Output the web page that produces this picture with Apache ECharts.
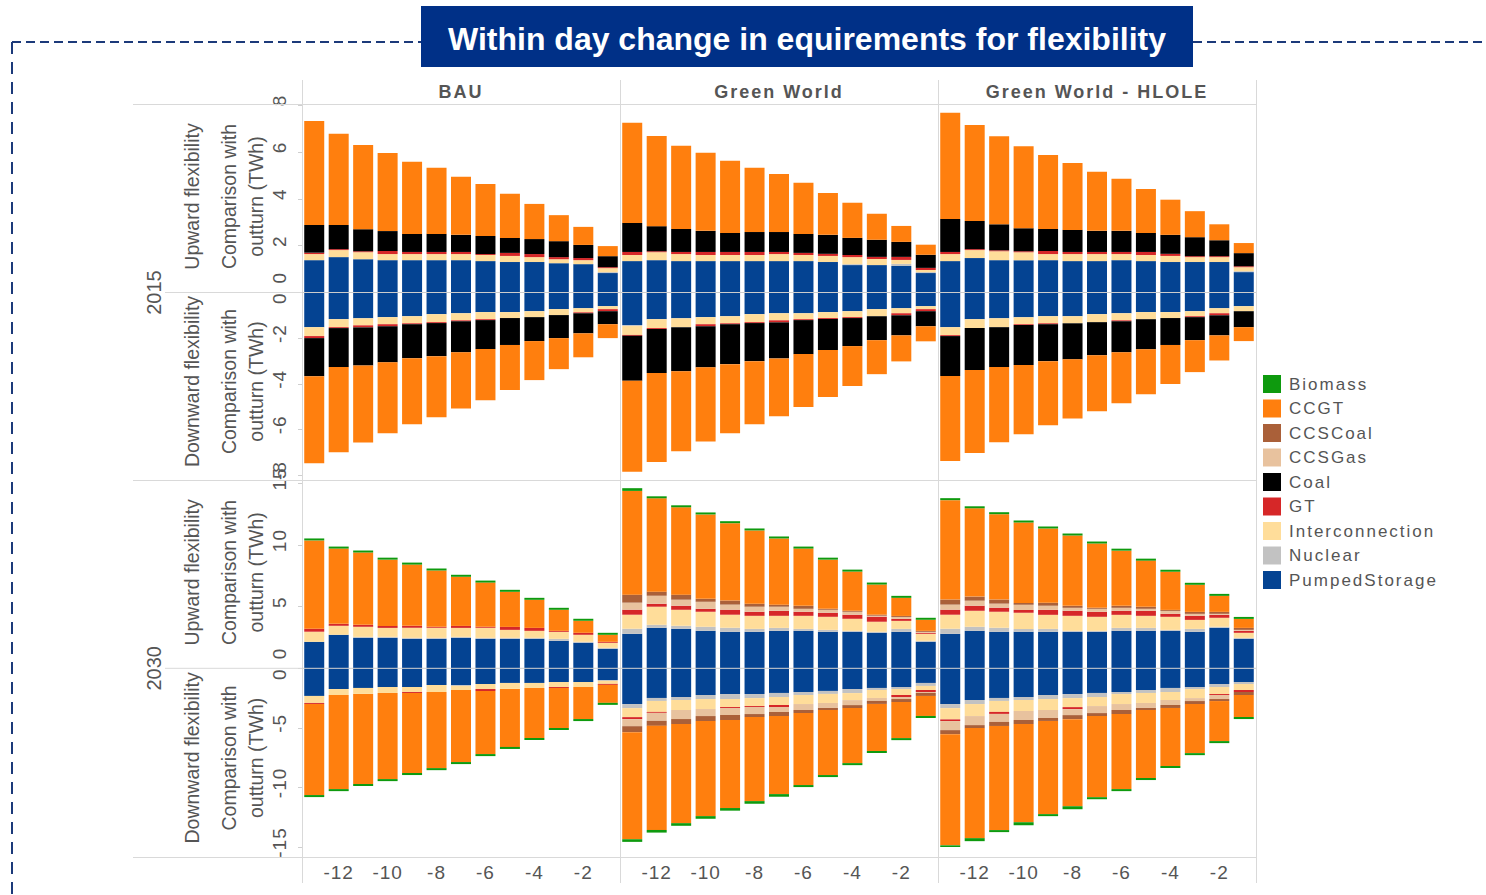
<!DOCTYPE html>
<html>
<head>
<meta charset="utf-8">
<title>Within day change in equirements for flexibility</title>
<script src="https://cdn.jsdelivr.net/npm/echarts@6/dist/echarts.min.js"></script>
<style>
  html, body { margin: 0; padding: 0; background: #fff; }
  #chart { width: 1486px; height: 895px; }
  /* Tableau-like wide text: svg renderer lets css space the letters */
  #chart text { letter-spacing: 2px; }
  #chart text[style*="19px"] { letter-spacing: 1px; }
  #chart text[style*="19.5px"], #chart text[style*="20px"], #chart text[style*="32px"] { letter-spacing: 0; }
</style>
</head>
<body>
<div id="chart"></div>
<script>
const hours = ['-13', '-12', '-11', '-10', '-9', '-8', '-7', '-6', '-5', '-4', '-3', '-2', '-1'];
const scenarios = ['BAU', 'Green World', 'Green World - HLOLE'];
const years = ['2015', '2030'];
const yMax = { '2015': 8, '2030': 15 };
const yStep = { '2015': 2, '2030': 5 };

// stacking order, from the zero line outwards
const stackOrder = ['PumpedStorage', 'Nuclear', 'Interconnection', 'GT', 'Coal', 'CCSGas', 'CCSCoal', 'CCGT', 'Biomass'];
const legendOrder = ['Biomass', 'CCGT', 'CCSCoal', 'CCSGas', 'Coal', 'GT', 'Interconnection', 'Nuclear', 'PumpedStorage'];
const colors = {
  Biomass: '#0e9a0e',
  CCGT: '#ff7f0e',
  CCSCoal: '#aa6039',
  CCSGas: '#e8c29e',
  Coal: '#000000',
  GT: '#d62728',
  Interconnection: '#ffdd9a',
  Nuclear: '#c2c2c2',
  PumpedStorage: '#044392'
};

// TWh, upward values and downward magnitudes (drawn below zero)
const bau2015Up = {
  PumpedStorage: [1.38, 1.51, 1.42, 1.38, 1.38, 1.38, 1.38, 1.34, 1.30, 1.30, 1.25, 1.21, 0.83],
  Nuclear: [0, 0, 0, 0, 0, 0, 0, 0, 0, 0, 0, 0, 0.04],
  Interconnection: [0.26, 0.30, 0.30, 0.26, 0.26, 0.26, 0.26, 0.26, 0.26, 0.21, 0.17, 0.17, 0.17],
  GT: [0.06, 0.04, 0.04, 0.13, 0.09, 0.09, 0.09, 0.04, 0.13, 0.13, 0.09, 0.09, 0.04],
  Coal: [1.18, 1.03, 0.94, 0.85, 0.77, 0.77, 0.73, 0.77, 0.64, 0.64, 0.68, 0.56, 0.47],
  CCGT: [4.44, 3.89, 3.59, 3.33, 3.08, 2.82, 2.48, 2.22, 1.88, 1.50, 1.11, 0.77, 0.43]
};
const bau2015Down = {
  PumpedStorage: [1.52, 1.17, 1.13, 1.08, 1.04, 0.95, 0.91, 0.86, 0.86, 0.82, 0.73, 0.69, 0.60],
  Interconnection: [0.39, 0.35, 0.31, 0.31, 0.31, 0.35, 0.31, 0.31, 0.26, 0.26, 0.26, 0.18, 0.13],
  GT: [0.09, 0.04, 0.09, 0.09, 0.04, 0.04, 0.04, 0.04, 0, 0, 0, 0.04, 0.09],
  Coal: [1.67, 1.71, 1.67, 1.58, 1.49, 1.45, 1.36, 1.27, 1.18, 1.05, 1.01, 0.88, 0.57],
  CCGT: [3.82, 3.73, 3.38, 3.11, 2.89, 2.68, 2.46, 2.24, 1.97, 1.71, 1.36, 1.05, 0.61]
};
const gw2015Up = {
  PumpedStorage: [1.34, 1.38, 1.34, 1.34, 1.34, 1.34, 1.34, 1.34, 1.30, 1.17, 1.17, 1.13, 0.83],
  Nuclear: [0, 0, 0, 0, 0, 0, 0, 0, 0, 0.04, 0, 0.09, 0.04],
  Interconnection: [0.26, 0.34, 0.30, 0.26, 0.26, 0.26, 0.30, 0.26, 0.26, 0.30, 0.26, 0.17, 0.09],
  GT: [0.13, 0.04, 0.09, 0.13, 0.13, 0.13, 0.09, 0.09, 0.09, 0.09, 0.09, 0.13, 0.09],
  Coal: [1.24, 1.07, 0.98, 0.90, 0.81, 0.85, 0.85, 0.81, 0.81, 0.73, 0.73, 0.64, 0.56],
  CCGT: [4.27, 3.85, 3.55, 3.33, 3.08, 2.74, 2.48, 2.18, 1.79, 1.50, 1.11, 0.68, 0.43]
};
const gw2015Down = {
  PumpedStorage: [1.43, 1.17, 1.13, 1.08, 1.04, 0.95, 0.91, 0.91, 0.86, 0.82, 0.73, 0.69, 0.60],
  Nuclear: [0.04, 0, 0, 0, 0, 0, 0, 0, 0, 0, 0, 0, 0],
  Interconnection: [0.39, 0.39, 0.39, 0.31, 0.31, 0.35, 0.31, 0.26, 0.26, 0.26, 0.31, 0.22, 0.13],
  GT: [0.04, 0.04, 0, 0.09, 0.04, 0.04, 0.09, 0.04, 0.04, 0.04, 0, 0.09, 0.09],
  Coal: [1.97, 1.93, 1.93, 1.80, 1.75, 1.67, 1.58, 1.49, 1.36, 1.23, 1.05, 0.88, 0.66],
  CCGT: [3.99, 3.90, 3.51, 3.25, 3.03, 2.76, 2.54, 2.32, 2.06, 1.75, 1.49, 1.14, 0.66]
};
const hlole2015Up = {
  PumpedStorage: [1.34, 1.47, 1.38, 1.38, 1.38, 1.34, 1.34, 1.38, 1.34, 1.30, 1.30, 1.30, 0.87],
  Nuclear: [0, 0, 0, 0, 0, 0, 0, 0, 0, 0, 0, 0, 0.04],
  Interconnection: [0.30, 0.34, 0.38, 0.34, 0.26, 0.30, 0.30, 0.26, 0.26, 0.26, 0.21, 0.21, 0.17],
  GT: [0.09, 0.04, 0.04, 0.04, 0.13, 0.09, 0.09, 0.09, 0.13, 0.09, 0.04, 0.04, 0.04],
  Coal: [1.41, 1.20, 1.11, 0.98, 0.94, 0.94, 0.90, 0.90, 0.81, 0.81, 0.81, 0.68, 0.56],
  CCGT: [4.53, 4.10, 3.76, 3.50, 3.16, 2.86, 2.52, 2.22, 1.88, 1.50, 1.11, 0.68, 0.43]
};
const hlole2015Down = {
  PumpedStorage: [1.52, 1.17, 1.13, 1.08, 1.04, 1.04, 0.95, 0.91, 0.86, 0.86, 0.82, 0.69, 0.60],
  Interconnection: [0.35, 0.39, 0.39, 0.31, 0.31, 0.31, 0.35, 0.31, 0.31, 0.26, 0.22, 0.22, 0.22],
  GT: [0.04, 0, 0, 0.04, 0.04, 0, 0, 0.04, 0, 0, 0.04, 0.09, 0],
  Coal: [1.75, 1.84, 1.75, 1.75, 1.62, 1.58, 1.45, 1.36, 1.32, 1.18, 1.01, 0.88, 0.70],
  CCGT: [3.73, 3.64, 3.29, 3.03, 2.81, 2.59, 2.46, 2.24, 1.97, 1.71, 1.40, 1.10, 0.61]
};
const bau2030Up = {
  PumpedStorage: [2.15, 2.72, 2.47, 2.47, 2.39, 2.39, 2.47, 2.39, 2.39, 2.39, 2.23, 2.07, 1.58],
  Nuclear: [0, 0, 0.08, 0.08, 0.08, 0.08, 0.08, 0.08, 0.08, 0.08, 0.16, 0.08, 0.08],
  Interconnection: [0.82, 0.73, 0.82, 0.73, 0.82, 0.82, 0.73, 0.82, 0.65, 0.57, 0.57, 0.57, 0.41],
  GT: [0.24, 0.16, 0.16, 0.16, 0.16, 0.08, 0.16, 0.08, 0.24, 0.24, 0.08, 0.16, 0.08],
  CCGT: [7.17, 6.11, 5.87, 5.38, 4.97, 4.57, 3.99, 3.59, 2.85, 2.28, 1.71, 0.98, 0.57],
  Biomass: [0.16, 0.16, 0.16, 0.16, 0.16, 0.16, 0.16, 0.16, 0.16, 0.16, 0.16, 0.16, 0.16]
};
const bau2030Down = {
  PumpedStorage: [2.32, 1.74, 1.65, 1.57, 1.57, 1.40, 1.40, 1.32, 1.23, 1.23, 1.15, 1.15, 0.98],
  Nuclear: [0, 0, 0, 0, 0, 0, 0.08, 0, 0, 0, 0, 0, 0.08],
  Interconnection: [0.59, 0.50, 0.50, 0.50, 0.42, 0.59, 0.34, 0.42, 0.50, 0.42, 0.42, 0.42, 0.25],
  GT: [0.08, 0, 0, 0, 0.08, 0, 0, 0.17, 0, 0, 0.08, 0, 0.08],
  CCGT: [7.65, 7.90, 7.56, 7.23, 6.72, 6.39, 6.05, 5.29, 4.87, 4.20, 3.36, 2.69, 1.51],
  Biomass: [0.17, 0.17, 0.17, 0.17, 0.17, 0.17, 0.17, 0.17, 0.17, 0.17, 0.17, 0.17, 0.17]
};
const gw2030Up = {
  PumpedStorage: [2.80, 3.29, 3.21, 3.04, 2.96, 2.96, 3.04, 3.04, 2.96, 2.96, 2.88, 2.96, 2.15],
  Nuclear: [0.41, 0.24, 0.24, 0.33, 0.33, 0.24, 0.24, 0.16, 0.16, 0.08, 0.08, 0.24, 0.08],
  Interconnection: [1.14, 1.47, 1.30, 1.22, 1.06, 1.06, 0.98, 1.06, 1.06, 0.98, 0.82, 0.65, 0.57],
  GT: [0.41, 0.24, 0.33, 0.24, 0.41, 0.33, 0.41, 0.33, 0.33, 0.33, 0.41, 0.16, 0.08],
  CCSGas: [0.57, 0.65, 0.49, 0.57, 0.41, 0.41, 0.33, 0.24, 0.24, 0.24, 0.08, 0.16, 0.08],
  CCSCoal: [0.65, 0.33, 0.41, 0.24, 0.33, 0.24, 0.16, 0.24, 0.08, 0.08, 0.08, 0.08, 0.08],
  CCGT: [8.42, 7.58, 7.09, 6.85, 6.28, 5.95, 5.38, 4.65, 3.99, 3.18, 2.45, 1.47, 0.90],
  Biomass: [0.22, 0.16, 0.16, 0.16, 0.16, 0.16, 0.16, 0.16, 0.16, 0.16, 0.16, 0.16, 0.16]
};
const gw2030Down = {
  PumpedStorage: [3.00, 2.49, 2.41, 2.24, 2.16, 2.16, 2.07, 1.99, 1.90, 1.74, 1.65, 1.57, 1.23],
  Nuclear: [0.34, 0.25, 0.25, 0.34, 0.42, 0.34, 0.34, 0.25, 0.25, 0.34, 0.17, 0.17, 0.25],
  Interconnection: [0.76, 0.92, 0.84, 0.84, 0.67, 0.67, 0.67, 0.76, 0.76, 0.59, 0.67, 0.50, 0.34],
  GT: [0.17, 0.08, 0, 0, 0.08, 0.08, 0.17, 0, 0, 0, 0, 0.17, 0.17],
  CCSGas: [0.59, 0.67, 0.76, 0.59, 0.59, 0.59, 0.42, 0.50, 0.42, 0.42, 0.25, 0.17, 0.08],
  CCSCoal: [0.50, 0.42, 0.42, 0.42, 0.42, 0.25, 0.34, 0.25, 0.17, 0.25, 0.25, 0.25, 0.25],
  CCGT: [8.99, 8.74, 8.32, 7.98, 7.39, 7.06, 6.55, 6.05, 5.46, 4.62, 3.95, 3.03, 1.68],
  Biomass: [0.22, 0.22, 0.22, 0.22, 0.22, 0.22, 0.22, 0.17, 0.17, 0.17, 0.17, 0.17, 0.17]
};
const hlole2030Up = {
  PumpedStorage: [2.80, 3.04, 2.96, 2.96, 2.96, 2.96, 2.96, 3.04, 3.04, 3.04, 2.96, 3.29, 2.39],
  Nuclear: [0.41, 0.33, 0.33, 0.24, 0.24, 0.08, 0.08, 0.24, 0.24, 0.08, 0.24, 0.08, 0.08],
  Interconnection: [1.14, 1.30, 1.30, 1.30, 1.14, 1.22, 1.14, 1.06, 0.98, 1.06, 0.73, 0.73, 0.41],
  GT: [0.41, 0.41, 0.33, 0.24, 0.41, 0.41, 0.41, 0.33, 0.41, 0.24, 0.33, 0.24, 0.16],
  CCSGas: [0.41, 0.41, 0.33, 0.41, 0.33, 0.24, 0.24, 0.24, 0.16, 0.24, 0.16, 0.08, 0.08],
  CCSCoal: [0.41, 0.33, 0.33, 0.16, 0.24, 0.16, 0.08, 0.16, 0.16, 0.08, 0.16, 0.16, 0.16],
  CCGT: [8.07, 7.17, 6.93, 6.52, 6.03, 5.71, 5.22, 4.48, 3.75, 3.10, 2.20, 1.30, 0.73],
  Biomass: [0.16, 0.16, 0.16, 0.16, 0.16, 0.16, 0.16, 0.16, 0.16, 0.16, 0.16, 0.16, 0.16]
};
const hlole2030Down = {
  PumpedStorage: [3.00, 2.66, 2.49, 2.41, 2.24, 2.16, 2.07, 1.99, 1.82, 1.65, 1.57, 1.32, 1.15],
  Nuclear: [0.34, 0.34, 0.25, 0.25, 0.34, 0.34, 0.34, 0.17, 0.25, 0.34, 0.17, 0.25, 0.17],
  Interconnection: [0.95, 1.01, 0.92, 0.92, 0.92, 0.76, 0.76, 0.84, 0.84, 0.67, 0.76, 0.59, 0.50],
  GT: [0.14, 0, 0.17, 0, 0, 0.17, 0, 0, 0, 0, 0, 0.08, 0.17],
  CCSGas: [0.76, 0.76, 0.67, 0.76, 0.67, 0.50, 0.59, 0.50, 0.42, 0.42, 0.25, 0.34, 0],
  CCSCoal: [0.34, 0.25, 0.34, 0.34, 0.25, 0.34, 0.25, 0.34, 0.17, 0.25, 0.25, 0.17, 0.25],
  CCGT: [9.33, 9.24, 8.74, 8.24, 7.82, 7.31, 6.81, 6.30, 5.71, 4.87, 4.12, 3.36, 1.85],
  Biomass: [0.25, 0.25, 0.17, 0.25, 0.17, 0.25, 0.17, 0.17, 0.17, 0.17, 0.17, 0.17, 0.17]
};

const panelData = {
  '2015': { 'BAU': [bau2015Up, bau2015Down], 'Green World': [gw2015Up, gw2015Down], 'Green World - HLOLE': [hlole2015Up, hlole2015Down] },
  '2030': { 'BAU': [bau2030Up, bau2030Down], 'Green World': [gw2030Up, gw2030Down], 'Green World - HLOLE': [hlole2030Up, hlole2030Down] }
};

// layout (px)
const FONT = "'Liberation Sans', Arial, sans-serif";
const colX = [302, 620, 938];
const colW = 318;
const rowGeom = {
  '2015': { top: 105, zero: 292.5, bottom: 475, frameTop: 104.5, frameBottom: 480.5 },
  '2030': { top: 483.5, zero: 668.3, bottom: 847, frameTop: 480.5, frameBottom: 857.5 }
};

const chart = echarts.init(document.getElementById('chart'), null, { renderer: 'svg' });

const grids = [], xAxes = [], yAxes = [], series = [];

years.forEach(year => {
  const g = rowGeom[year];
  scenarios.forEach((scen, ci) => {
    ['up', 'down'].forEach((dir, di) => {
      const idx = grids.length;
      const isUp = dir === 'up';
      grids.push({
        left: colX[ci], width: colW,
        top: isUp ? g.top : g.zero,
        height: isUp ? g.zero - g.top : g.bottom - g.zero,
        containLabel: false, outerBoundsMode: 'none'
      });
      const showX = year === '2030' && !isUp;
      xAxes.push({
        type: 'category', gridIndex: idx, data: hours,
        axisLine: { show: false }, axisTick: { show: false },
        axisLabel: {
          show: showX, interval: (i, v) => Number(v) % 2 === 0,
          fontSize: 19, color: '#555', fontFamily: FONT, margin: 16
        },
        splitLine: { show: false }
      });
      yAxes.push({
        type: 'value', gridIndex: idx,
        min: isUp ? 0 : -yMax[year], max: isUp ? yMax[year] : 0, interval: yStep[year],
        axisLine: { show: false },
        axisTick: { show: ci === 0, length: 4, lineStyle: { color: '#cfcfcf' } },
        splitLine: { show: false },
        axisLabel: {
          show: ci === 0, rotate: 90, fontSize: 19, color: '#555', fontFamily: FONT, margin: 13,
          padding: [0, 0, 0, 9],
          alignMinLabel: isUp ? 'left' : 'center',
          alignMaxLabel: isUp ? 'center' : 'right'
        }
      });
      const vals = panelData[year][scen][di];
      stackOrder.forEach(fuel => {
        if (!vals[fuel]) return;
        series.push({
          type: 'bar', name: fuel, xAxisIndex: idx, yAxisIndex: idx,
          stack: 'g' + idx, barWidth: 20,
          itemStyle: { color: colors[fuel] },
          data: isUp ? vals[fuel] : vals[fuel].map(v => -v),
          silent: true
        });
      });
    });
  });
});

const lineColor = '#d9d9d9';
const hLine = (x1, x2, y, c, z) => ({ type: 'line', silent: true, z: z || 1, shape: { x1, y1: y, x2, y2: y }, style: { stroke: c || lineColor, lineWidth: 1 } });
const vLine = (x, y1, y2) => ({ type: 'line', silent: true, z: 1, shape: { x1: x, y1, x2: x, y2 }, style: { stroke: lineColor, lineWidth: 1 } });
const rotText = (text, x, y, size, color) => ({
  type: 'text', silent: true, x, y, rotation: Math.PI / 2,
  style: { text, x: 0, y: 0, fill: color || '#555', font: size + 'px ' + FONT,
    textAlign: 'center', textVerticalAlign: 'middle', align: 'center', verticalAlign: 'middle' }
});

const graphics = [
  // dashed frame and title banner
  { type: 'line', silent: true, shape: { x1: 12, y1: 42, x2: 421, y2: 42 }, style: { stroke: '#1c3a7a', lineWidth: 2, lineDash: [9, 5] } },
  { type: 'line', silent: true, shape: { x1: 1193, y1: 42, x2: 1486, y2: 42 }, style: { stroke: '#1c3a7a', lineWidth: 2, lineDash: [9, 5] } },
  { type: 'line', silent: true, shape: { x1: 12, y1: 42, x2: 12, y2: 895 }, style: { stroke: '#1c3a7a', lineWidth: 2, lineDash: [12, 8] } },
  { type: 'rect', silent: true, shape: { x: 421, y: 6, width: 772, height: 61 }, style: { fill: '#003087' } },
  { type: 'text', silent: true, x: 807, y: 39,
    style: { text: 'Within day change in equirements for flexibility', fill: '#fff', font: 'bold 32px ' + FONT,
      textAlign: 'center', textVerticalAlign: 'middle', align: 'center', verticalAlign: 'middle' } }
];

scenarios.forEach((scen, ci) => {
  graphics.push({ type: 'text', silent: true, x: colX[ci] + colW / 2, y: 92,
    style: { text: scen, fill: '#555', font: 'bold 18px ' + FONT,
      textAlign: 'center', textVerticalAlign: 'middle', align: 'center', verticalAlign: 'middle' } });
});

[302.5, 620.5, 938.5, 1256.5].forEach(x => graphics.push(vLine(x, 80, 883)));
graphics.push(hLine(133, 1256, 104.5));
graphics.push(hLine(133, 1256, 480.5));
graphics.push(hLine(133, 1256, 857.5));

years.forEach(year => {
  const g = rowGeom[year];
  const upMid = (g.frameTop + g.zero) / 2 - 2;
  const downMid = (g.zero + g.frameBottom) / 2 - 5;
  graphics.push(hLine(165, 302, g.zero));
  graphics.push(hLine(302, 1256, g.zero, '#cccccc', 50));
  graphics.push(rotText(year, 154, g.zero, 20));
  graphics.push(rotText('Upward flexibility', 192, upMid, 19.5));
  graphics.push(rotText('Comparison with', 229, upMid, 19.5));
  graphics.push(rotText('outturn (TWh)', 256, upMid, 19.5));
  graphics.push(rotText('Downward flexibility', 192, downMid, 19.5));
  graphics.push(rotText('Comparison with', 229, downMid, 19.5));
  graphics.push(rotText('outturn (TWh)', 256, downMid, 19.5));
});

chart.setOption({
  animation: false,
  backgroundColor: '#fff',
  textStyle: { fontFamily: FONT },
  legend: {
    data: legendOrder, orient: 'vertical', left: 1263, top: 375, padding: 0,
    itemWidth: 18, itemHeight: 18, itemGap: 6.5, icon: 'rect', selectedMode: false,
    textStyle: { fontSize: 17, color: '#555', fontFamily: FONT, padding: [0, 0, 0, 3] }
  },
  grid: grids,
  xAxis: xAxes,
  yAxis: yAxes,
  series: series,
  graphic: graphics
});
</script>
</body>
</html>
